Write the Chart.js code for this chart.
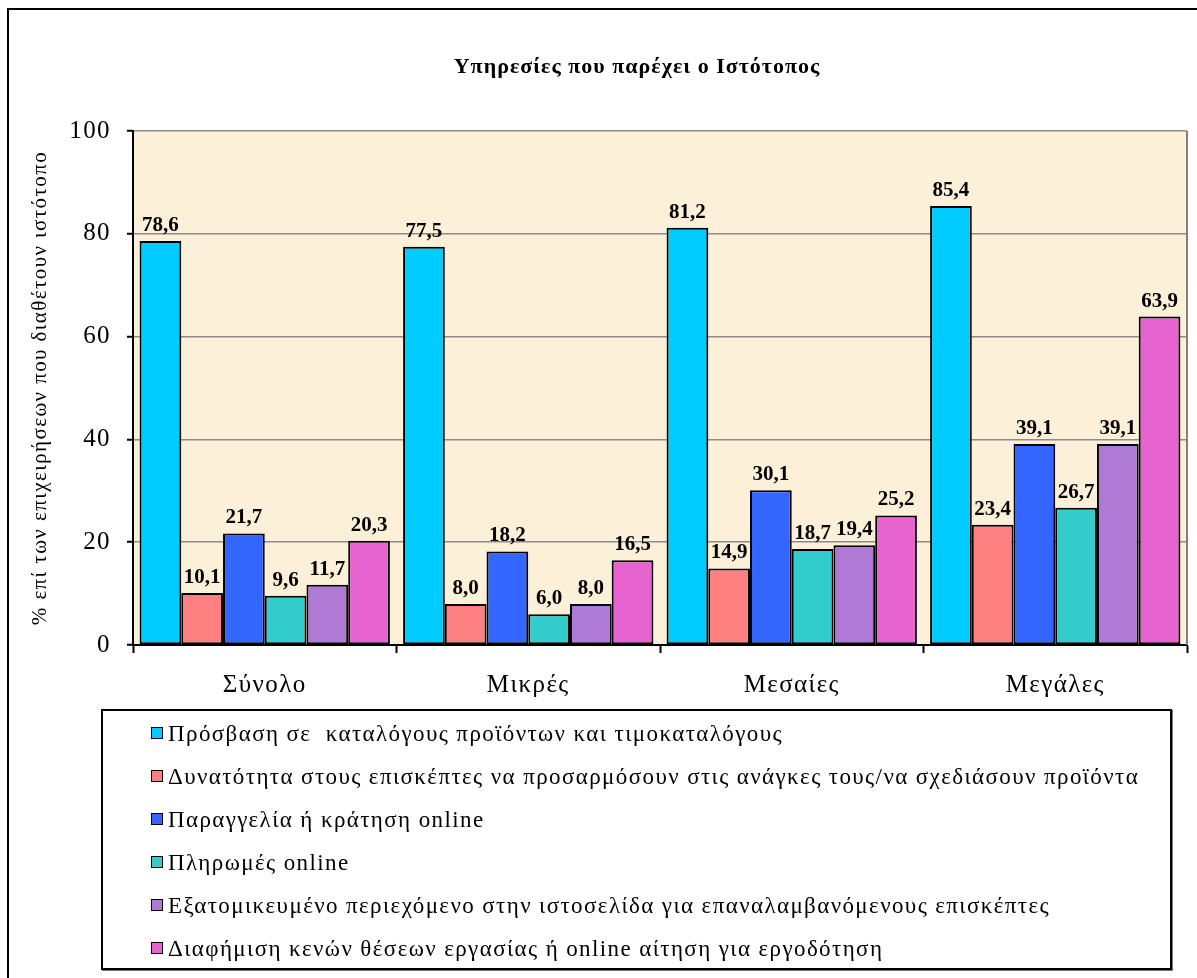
<!DOCTYPE html>
<html>
<head>
<meta charset="utf-8">
<script src="https://cdn.jsdelivr.net/npm/chart.js@4.4.1/dist/chart.umd.min.js"></script>
<style>
	html, body { margin: 0; padding: 0; overflow: hidden; background: #fff; }
	#frame { position: absolute; left: 7px; top: 8px; width: 1300px; height: 1100px; border: 2px solid #000; box-sizing: border-box; }
	#wrap { position: absolute; left: 0; top: 0; width: 1197px; height: 978px; }
	#legendBox {
		position: absolute; left: 101px; top: 709px; width: 1071px; height: 261px;
		border: 2px solid #000; box-sizing: border-box; background: #fff;
		box-shadow: 1px 1px 0 #777;
		font-family: 'Liberation Serif', 'DejaVu Serif', 'Times New Roman', serif; font-size: 23px; color: #000;
		letter-spacing: 1.4px;
	}
	.row { position: absolute; left: 0; height: 43px; line-height: 43px; white-space: pre; }
	.row span.box { position: absolute; left: 48px; top: 15px; width: 10px; height: 10px; border: 1.5px solid #000; }
	.row span.txt { position: absolute; left: 65px; top: 0; }
</style>
</head>
<body>
<div id="frame"></div>
<div id="wrap"><canvas id="myChart" width="1197" height="978"></canvas></div>
<div id="legendBox"></div>
<script>
// Данные графика
const chartTitle = 'Υπηρεσίες που παρέχει ο Ιστότοπος';
const categories = ['Σύνολο', 'Μικρές', 'Μεσαίες', 'Μεγάλες'];
const seriesNames = [
	'Πρόσβαση σε  καταλόγους προϊόντων και τιμοκαταλόγους',
	'Δυνατότητα στους επισκέπτες να προσαρμόσουν στις ανάγκες τους/να σχεδιάσουν προϊόντα',
	'Παραγγελία ή κράτηση online',
	'Πληρωμές online',
	'Εξατομικευμένο περιεχόμενο στην ιστοσελίδα για επαναλαμβανόμενους επισκέπτες',
	'Διαφήμιση κενών θέσεων εργασίας ή online αίτηση για εργοδότηση'
];
const catalogs = [78.6, 77.5, 81.2, 85.4];
const customize = [10.1, 8.0, 14.9, 23.4];
const orders = [21.7, 18.2, 30.1, 39.1];
const payments = [9.6, 6.0, 18.7, 26.7];
const personal = [11.7, 8.0, 19.4, 39.1];
const jobs = [20.3, 16.5, 25.2, 63.9];
const yTicks = [0, 20, 40, 60, 80, 100];

const colors = ['#00CCFF', '#FF8080', '#3366FF', '#33CCCC', '#AE7AD6', '#E663D0'];
const allValues = [catalogs, customize, orders, payments, personal, jobs];

const serif = "'Liberation Serif', 'DejaVu Serif', 'Times New Roman', serif";

// Фон области построения, заголовок, правая граница
const areaBg = {
	id: 'areaBg',
	beforeDraw(chart) {
		const { ctx, chartArea: a } = chart;
		ctx.save();
		ctx.fillStyle = '#FCF0D8';
		ctx.fillRect(a.left, a.top, a.right - a.left, a.bottom - a.top);
		ctx.restore();
		// Разрядка букв для подписей осей (шрифт в оригинале шире)
		ctx.letterSpacing = '1.4px';
	},
	beforeDatasetsDraw(chart) {
		chart.ctx.letterSpacing = '0px';
	},
	afterDraw(chart) {
		const { ctx, chartArea: a } = chart;
		ctx.save();
		ctx.strokeStyle = '#808080';
		ctx.lineWidth = 2;
		ctx.beginPath();
		ctx.moveTo(a.right, a.top);
		ctx.lineTo(a.right, a.bottom);
		ctx.stroke();

		ctx.letterSpacing = '1px';
		ctx.font = 'bold 22px ' + serif;
		ctx.fillStyle = '#000';
		ctx.textAlign = 'center';
		ctx.textBaseline = 'middle';
		ctx.fillText(chartTitle, 637, 67);
		ctx.restore();
	}
};

// Подписи значений над столбцами
const barLabels = {
	id: 'barLabels',
	afterDatasetsDraw(chart) {
		const ctx = chart.ctx;
		ctx.save();
		ctx.font = 'bold 21px ' + serif;
		ctx.fillStyle = '#000';
		ctx.textAlign = 'center';
		ctx.textBaseline = 'alphabetic';
		chart.data.datasets.forEach((ds, i) => {
			chart.getDatasetMeta(i).data.forEach((bar, j) => {
				const text = ds.data[j].toFixed(1).replace('.', ',');
				ctx.fillText(text, bar.x, bar.y - 10);
			});
		});
		ctx.restore();
	}
};

const ctx = document.getElementById('myChart').getContext('2d');

const chart = new Chart(ctx, {
	type: 'bar',
	data: {
		labels: categories,
		datasets: allValues.map((vals, i) => ({
			label: seriesNames[i],
			data: vals,
			backgroundColor: colors[i],
			borderColor: '#000',
			borderWidth: 2,
			borderSkipped: false,
			categoryPercentage: 0.95,
			barPercentage: 1
		}))
	},
	options: {
		responsive: false,
		animation: false,
		layout: { padding: { left: 0, right: 10, top: 131, bottom: 0 } },
		plugins: {
			legend: { display: false },
			tooltip: { enabled: false },
			title: { display: false }
		},
		scales: {
			x: {
				grid: {
					display: true,
					drawOnChartArea: false,
					tickLength: 8,
					tickColor: '#000',
					tickWidth: 2,
					offset: true
				},
				border: { color: '#000', width: 2 },
				ticks: {
					color: '#000',
					font: { family: serif, size: 25 },
					padding: 17.5
				},
				afterFit(scale) {
					scale.height = 333;
				}
			},
			y: {
				min: 0,
				max: 100,
				afterBuildTicks(scale) {
					scale.ticks = yTicks.map(v => ({ value: v }));
				},
				grid: {
					color: '#8C8C8C',
					lineWidth: 1.5,
					tickLength: 6,
					tickColor: '#000',
					tickWidth: 2
				},
				border: { color: '#000', width: 2 },
				ticks: {
					color: '#000',
					font: { family: serif, size: 25 },
					padding: 16
				},
				title: {
					display: true,
					text: '% επί των επιχειρήσεων που διαθέτουν ιστότοπο',
					color: '#000',
					font: { family: serif, size: 21 },
					padding: { top: 28, bottom: 0 }
				},
				afterFit(scale) {
					scale.width = 133;
				}
			}
		}
	},
	plugins: [areaBg, barLabels]
});

// Легенда в рамке
const legendBox = document.getElementById('legendBox');
seriesNames.forEach((name, i) => {
	const row = document.createElement('div');
	row.className = 'row';
	row.style.top = (0.5 + i * 43) + 'px';
	row.innerHTML = '<span class="box" style="background:' + colors[i] + '"></span><span class="txt"></span>';
	row.querySelector('.txt').textContent = name;
	legendBox.appendChild(row);
});
</script>
</body>
</html>
